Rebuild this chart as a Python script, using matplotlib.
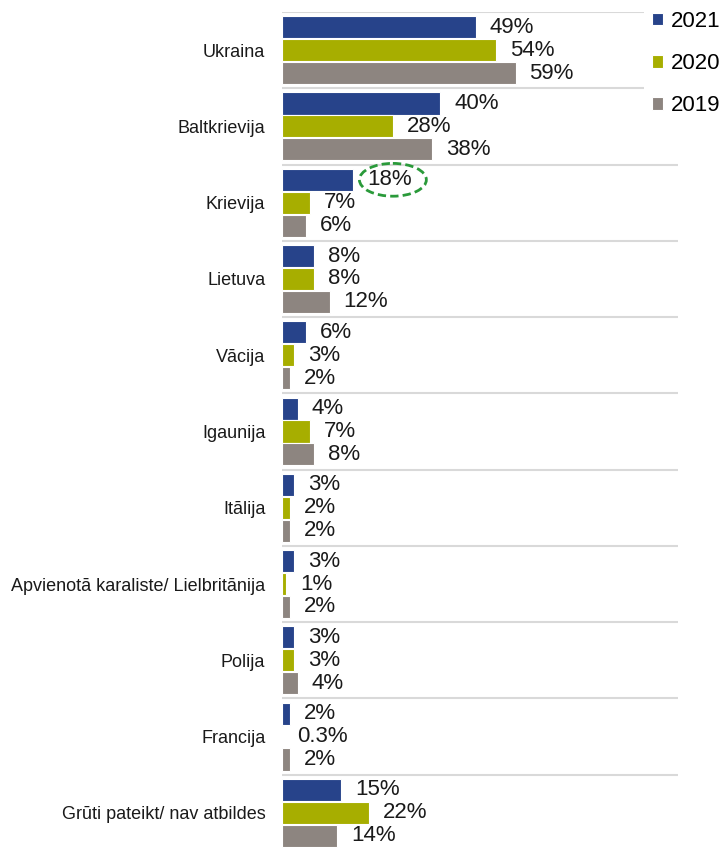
import numpy as np
import matplotlib.pyplot as plt
from matplotlib.patches import Ellipse

plt.rcParams['font.family'] = ['Liberation Sans', 'DejaVu Sans']

# Data
categories = ["Ukraina", "Baltkrievija", "Krievija", "Lietuva", "Vācija", "Igaunija",
              "Itālija", "Apvienotā karaliste/ Lielbritānija", "Polija", "Francija",
              "Grūti pateikt/ nav atbildes"]
v2021 = [49, 40, 18, 8, 6, 4, 3, 3, 3, 2, 15]
v2020 = [54, 28, 7, 8, 3, 7, 2, 1, 3, 0.3, 22]
v2019 = [59, 38, 6, 12, 2, 8, 2, 2, 4, 2, 14]
series = [("2021", v2021, "#27438a"), ("2020", v2020, "#a7ae00"), ("2019", v2019, "#8d8580")]

fig = plt.figure(figsize=(7.24, 8.5), dpi=100)
ax = fig.add_axes([282 / 724, -1 / 850, 396 / 724, 839 / 850])

y = np.arange(len(categories))
offsets = [-0.30, 0.0, 0.30]
bar_h = 0.29

for (name, vals, col), off in zip(series, offsets):
    bars = ax.barh(y + off, vals, height=bar_h, color=col, edgecolor="white",
                   linewidth=0.8, label=name)
    for b, v in zip(bars, vals):
        txt = f"{v:g}%"
        ax.annotate(txt, (b.get_width(), b.get_y() + b.get_height() / 2),
                    xytext=(10, 0), textcoords="offset points",
                    ha="left", va="center", fontsize=16, color="#1a1a1a")

# separator lines between groups
for k in range(len(categories)):
    xmax = 91.3 if k < 2 else 100
    ax.hlines(k - 0.5, 0, xmax, color="#d9d9d9", linewidth=1.5, zorder=0)

# highlight around Krievija 2021
ax.add_patch(Ellipse((28.0, 2 - 0.30), 16.9, 0.43, fill=False, edgecolor="#2a9a3a",
                     linestyle=(0, (3, 1.5)), linewidth=2, clip_on=False))

ax.set_xlim(0, 100)
ax.set_ylim(len(categories) - 0.5, -0.5)
ax.set_yticks(y)
ax.set_yticklabels(categories, fontsize=13, color="#1a1a1a")
ax.tick_params(axis="y", length=0, pad=12)
ax.set_xticks([])
for s in ax.spines.values():
    s.set_visible(False)

fig.legend(loc="upper left", bbox_to_anchor=(652 / 724, 1 - 11 / 850), frameon=False,
           fontsize=16, handlelength=0.5, handleheight=0.5, handletextpad=0.35,
           labelspacing=0.95, borderpad=0, borderaxespad=0)

fig.savefig("out.png", dpi=100)
